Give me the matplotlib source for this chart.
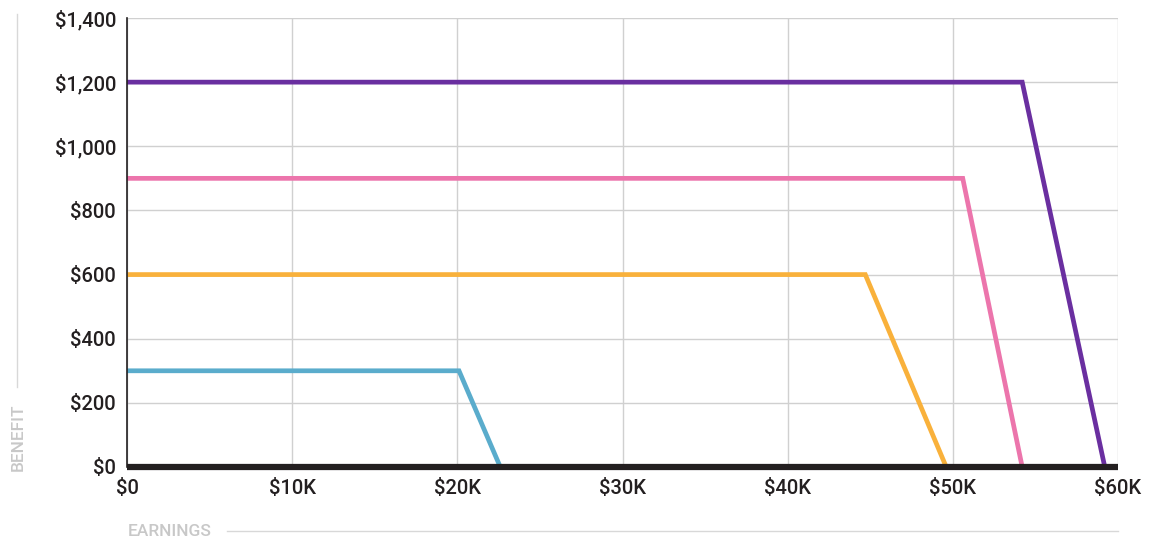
import matplotlib
matplotlib.use("Agg")
import matplotlib.pyplot as plt
from matplotlib.lines import Line2D
from matplotlib.ticker import FuncFormatter

# Data (earnings in $K, benefit in $)
blue_x = [0, 20.1, 22.6]
blue_y = [300, 300, 0]
orange_x = [0, 44.7, 49.6]
orange_y = [600, 600, 0]
pink_x = [0, 50.6, 54.2]
pink_y = [900, 900, 0]
purple_x = [0, 54.2, 59.2]
purple_y = [1200, 1200, 0]
x_ticks = [0, 10, 20, 30, 40, 50, 60]
x_labels = ["$0", "$10K", "$20K", "$30K", "$40K", "$50K", "$60K"]
y_ticks = [0, 200, 400, 600, 800, 1000, 1200, 1400]

plt.rcParams['font.family'] = ['Roboto', 'DejaVu Sans']

W, H = 1158, 539
fig = plt.figure(figsize=(W/100, H/100), dpi=100)
ax = fig.add_axes([127/W, 1-467/H, (1118-127)/W, (467-18)/H])

ax.set_xlim(0, 60)
ax.set_ylim(0, 1400)
ax.set_xticks(x_ticks)
ax.set_xticklabels(x_labels)
ax.set_yticks(y_ticks)
ax.yaxis.set_major_formatter(FuncFormatter(lambda v, p: f"${int(v):,}"))
ax.grid(True, color='#d0d0d0', linewidth=1)
ax.set_axisbelow(True)
for s in ['top', 'right', 'bottom']:
    ax.spines[s].set_visible(False)
ax.spines['left'].set_color('#231f20')
ax.spines['left'].set_linewidth(1.2)
ax.tick_params(length=0, labelsize=14.5, colors='#231f20', pad=8)
for lab in ax.get_xticklabels() + ax.get_yticklabels():
    lab.set_fontweight('medium')
ax.tick_params(axis='x', pad=9)

lw = 3.4
for xs, ys, c in [(blue_x, blue_y, '#5aaccc'), (orange_x, orange_y, '#f9b13b'),
                  (pink_x, pink_y, '#ec75ac'), (purple_x, purple_y, '#6a2fa0')]:
    ax.plot(xs, ys, color=c, lw=lw, clip_on=False, solid_capstyle='butt',
            solid_joinstyle='miter')
ax.axhline(0, color='#231f20', lw=4.5, clip_on=False, zorder=5,
           solid_capstyle='butt')

# Axis titles with guide lines
fig.text(18/W, 1-437/H, "BENEFIT", rotation=90, ha='center', va='center',
         color='#c8c8c8', fontsize=12.5, fontweight='medium')
fig.add_artist(Line2D([17/W, 17/W], [1-387/H, 1-14/H], color='#d8d8d8', lw=1))
fig.text(128/W, 1-531/H, "EARNINGS", ha='left', va='center',
         color='#c8c8c8', fontsize=12.5, fontweight='medium')
fig.add_artist(Line2D([227/W, 1118/W], [1-531/H, 1-531/H], color='#d8d8d8', lw=1))

fig.savefig("out.png", dpi=100)
